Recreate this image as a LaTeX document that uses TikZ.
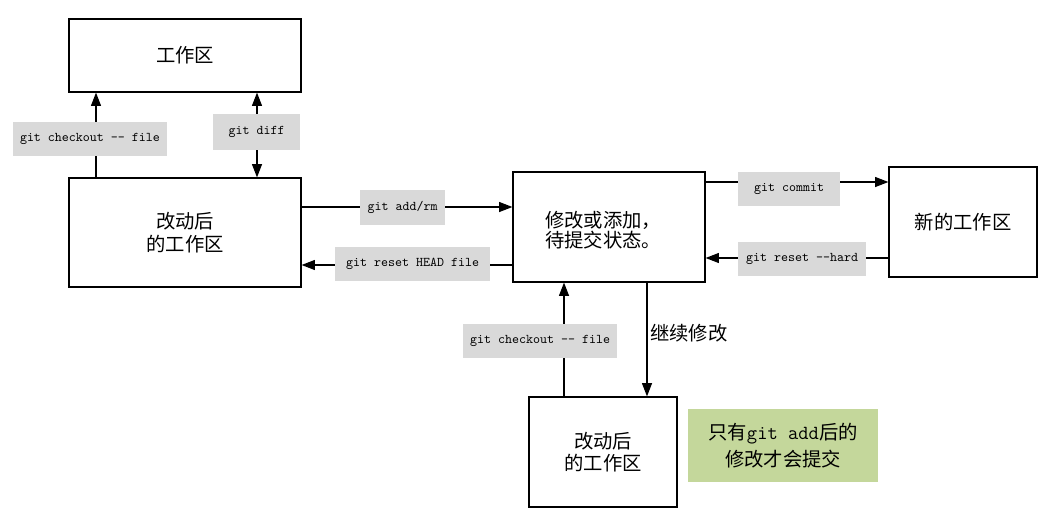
\documentclass[tikz,border=0pt]{standalone}
\usepackage{fontspec}
\setmainfont{Liberation Serif}
\newfontfamily\cjk{Noto Sans CJK SC}
\usetikzlibrary{arrows.meta}
\definecolor{lblgray}{HTML}{D9D9D9}
\definecolor{notegreen}{HTML}{C4D79B}
\begin{document}
\begin{tikzpicture}[x=0.75pt,y=-0.75pt,
  box/.style={draw,line width=0.9pt,inner sep=0pt,align=center,
    font=\cjk\fontsize{14.5}{17}\selectfont},
  lbl/.style={fill=lblgray,inner sep=0pt,font=\ttfamily\fontsize{10}{12}\selectfont},
  conn/.style={line width=0.9pt,-{Triangle[length=10pt,width=7.5pt]}},
  dconn/.style={line width=0.9pt,{Triangle[length=10pt,width=7.5pt]}-{Triangle[length=10pt,width=7.5pt]}}]
\useasboundingbox[fill=white] (0,0) rectangle (1053,514);

% boxes
\node[box,minimum width=174pt,minimum height=54.75pt] (A) at (185,55.5) {工作区};
\node[box,minimum width=174pt,minimum height=81.75pt] (B) at (185,232.5) {改动后\\的工作区};
\node[box,minimum width=144pt,minimum height=82.5pt] (C) at (609,227) {};
\node[font=\cjk\fontsize{14.5}{15.5}\selectfont,align=left,inner sep=0pt] (Ct) at (603,230) {修改或添加，\\待提交状态。};
\node[box,minimum width=111pt,minimum height=82.5pt] (D) at (963,222) {新的工作区};
\node[box,minimum width=111pt,minimum height=82.5pt] (E) at (603,452) {改动后\\的工作区};
\node[fill=notegreen,inner sep=0pt,minimum width=142.5pt,minimum height=54.75pt,align=center,
  font=\cjk\fontsize{14.5}{20}\selectfont] (N) at (783,445.5)
  {只有{\ttfamily\fontsize{15}{20}\selectfont git add}后的\\修改才会提交};

% x positions of vertical connectors, y positions of horizontal ones
\coordinate (x1) at (96,0);
\coordinate (x2) at (257,0);
\coordinate (x3) at (564,0);
\coordinate (x4) at (647,0);
\coordinate (y1) at (0,207);
\coordinate (y2) at (0,265);
\coordinate (y3) at (0,182);
\coordinate (y4) at (0,258);

% connectors
\draw[conn] (B.north -| x1) -- (A.south -| x1);
\draw[dconn] (A.south -| x2) -- (B.north -| x2);
\draw[conn] (B.east |- y1) -- (C.west |- y1);
\draw[conn] (C.west |- y2) -- (B.east |- y2);
\draw[conn] (C.east |- y3) -- (D.west |- y3);
\draw[conn] (D.west |- y4) -- (C.east |- y4);
\draw[conn] (E.north -| x3) -- (C.south -| x3);
\draw[conn] (C.south -| x4) -- (E.north -| x4);

% labels
\node[lbl,minimum width=115.5pt,minimum height=25.5pt] (L1) at (90,139) {git checkout -- file};
\node[lbl,minimum width=65.25pt,minimum height=27pt] (L2) at (256.5,132) {git diff};
\node[lbl,minimum width=63.75pt,minimum height=26.25pt] (L3) at (402.5,207.5) {git add/rm};
\node[lbl,minimum width=116.25pt,minimum height=25.5pt] (L4) at (412.5,264) {git reset HEAD file};
\node[lbl,minimum width=76.5pt,minimum height=25.5pt] (L5) at (789,189) {git commit};
\node[lbl,minimum width=96pt,minimum height=25.5pt] (L6) at (802,259) {git reset --hard};
\node[lbl,minimum width=115.5pt,minimum height=25.5pt] (L7) at (540,341) {git checkout -- file};
\node[anchor=west,inner sep=0pt,font=\cjk\fontsize{14.5}{17}\selectfont] (K) at (650,333) {继续修改};
\end{tikzpicture}
\end{document}
